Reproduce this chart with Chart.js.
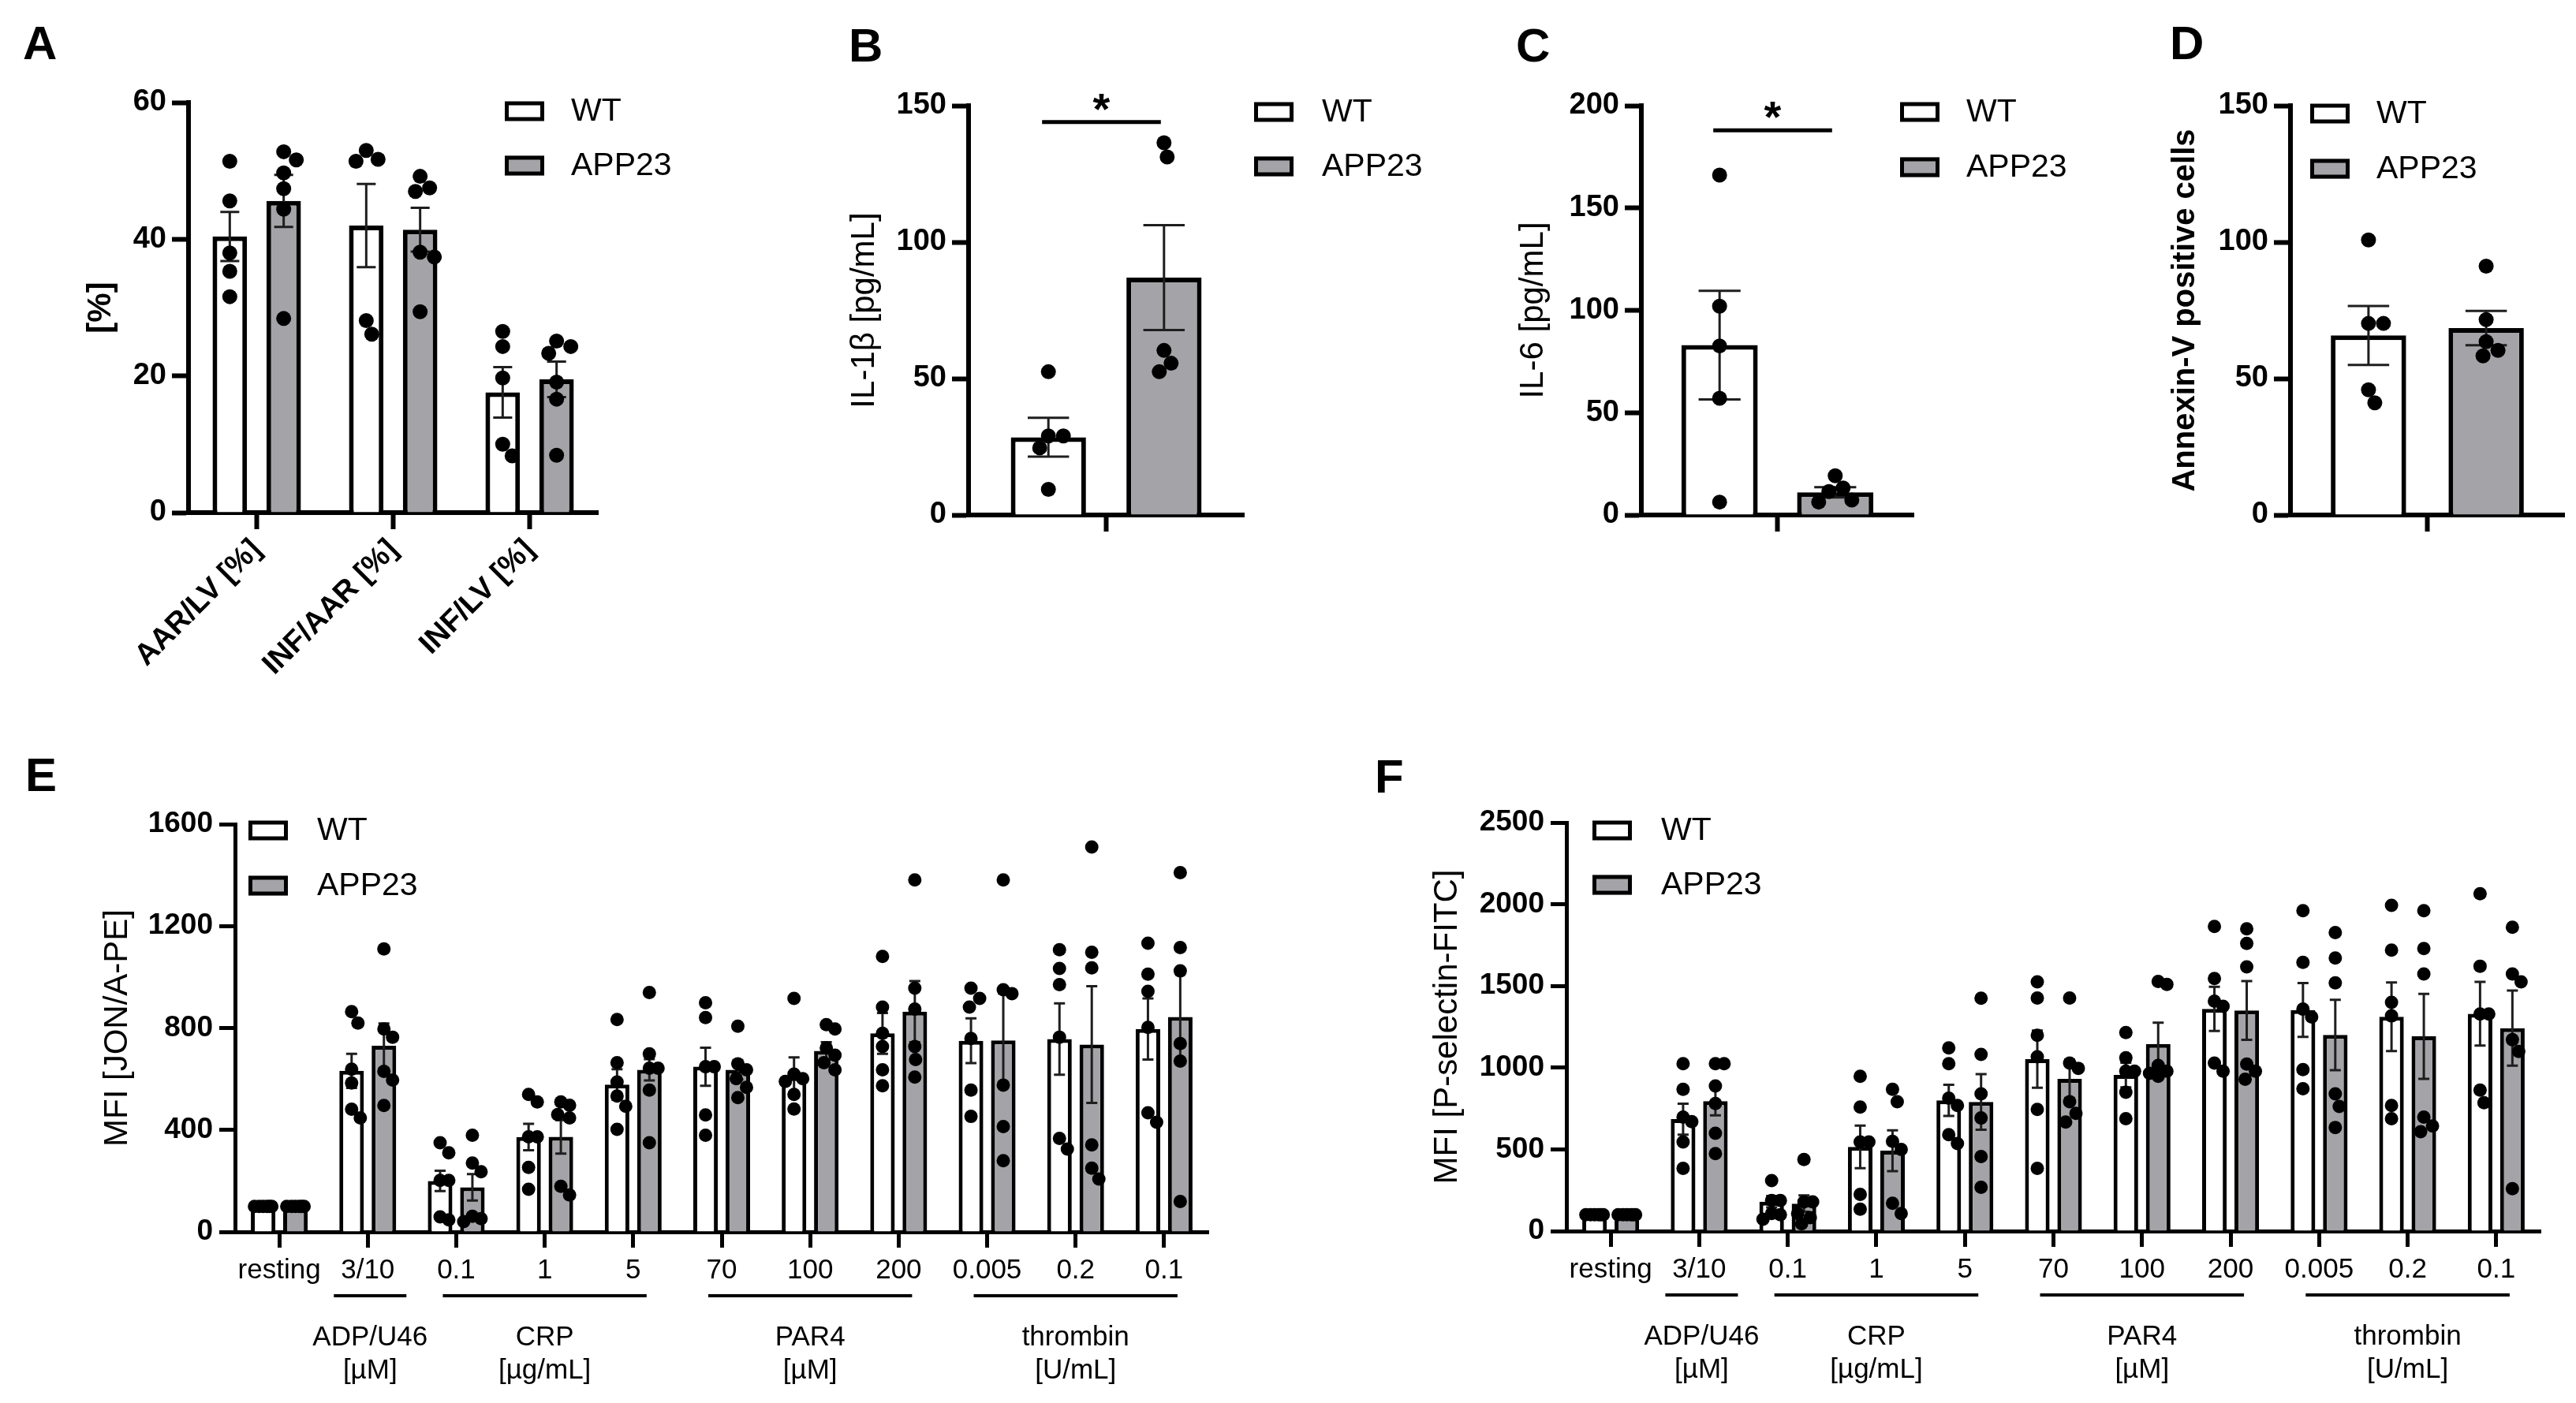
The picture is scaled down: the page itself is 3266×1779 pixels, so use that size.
<!DOCTYPE html>
<html>
<head>
<meta charset="utf-8">
<script src="https://cdn.jsdelivr.net/npm/chart.js@4/dist/chart.umd.min.js"></script>
<style>
html, body { margin: 0; padding: 0; background: #fff; }
body { width: 3266px; height: 1779px; position: relative; overflow: hidden; font-family: "Liberation Sans", Arial, sans-serif; }
canvas { position: absolute; }
.tag { position: absolute; font-weight: bold; font-size: 60px; line-height: 1; color: #000; }
</style>
</head>
<body>
<div class="tag" style="left:29px;top:25px">A</div>
<div class="tag" style="left:1076px;top:28px">B</div>
<div class="tag" style="left:1922px;top:28px">C</div>
<div class="tag" style="left:2751px;top:25px">D</div>
<div class="tag" style="left:32px;top:953px">E</div>
<div class="tag" style="left:1743px;top:955px">F</div>
<canvas id="cA"></canvas>
<canvas id="cB"></canvas>
<canvas id="cC"></canvas>
<canvas id="cD"></canvas>
<canvas id="cE"></canvas>
<canvas id="cF"></canvas>
<script>
const seriesNames = ['WT', 'APP23'];

// A - infarct size
const aLabels = ['AAR/LV [%]', 'INF/AAR [%]', 'INF/LV [%]'];
const aTicks = [0, 20, 40, 60];
const aWtMean = [40.4, 42.0, 17.6];
const aWtSem = [3.6, 6.1, 3.7];
const aAppMean = [45.6, 41.4, 19.5];
const aAppSem = [3.8, 3.2, 2.6];
const aWtDots = [[51.4, 45.6, 38.0, 35.3, 31.6], [53.0, 51.7, 51.4, 28.1, 26.1], [26.5, 24.3, 19.7, 10.0, 8.3]];
const aAppDots = [[52.8, 51.6, 49.7, 47.4, 44.4, 28.4], [49.2, 47.5, 47.0, 38.1, 37.4, 29.4], [25.1, 24.3, 23.3, 19.1, 16.6, 8.4]];

// B - IL-1beta
const bTicks = [0, 50, 100, 150];
const bWtMean = [28.5], bWtSem = [7.1];
const bAppMean = [87.0], bAppSem = [19.2];
const bWtDots = [[52.5, 29.0, 29.0, 24.6, 9.4]];
const bAppDots = [[136.4, 131.2, 60.3, 55.6, 52.5]];
const bSig = 144;

// C - IL-6
const cTicks = [0, 50, 100, 150, 200];
const cWtMean = [83.0], cWtSem = [26.5];
const cAppMean = [11.1], cAppSem = [2.5];
const cWtDots = [[166.1, 102.0, 82.6, 57.0, 6.3]];
const cAppDots = [[19.2, 13.2, 11.5, 7.3, 6.3]];
const cSig = 188;

// D - Annexin-V
const dTicks = [0, 50, 100, 150];
const dWtMean = [65.8], dWtSem = [10.8];
const dAppMean = [68.5], dAppSem = [6.3];
const dWtDots = [[100.8, 70.2, 70.2, 45.9, 41.1]];
const dAppDots = [[91.2, 71.6, 63.5, 60.3, 58.3]];

// E/F shared agonist axis
const agonists = ['resting', '3/10', '0.1', '1', '5', '70', '100', '200', '0.005', '0.2', '0.1'];
const groupNames = ['ADP/U46', 'CRP', 'PAR4', 'thrombin'];
const groupUnits = ['[µM]', '[µg/mL]', '[µM]', '[U/mL]'];
const groupFirst = [1, 2, 5, 8];
const groupLast = [1, 4, 7, 10];

// E - JON/A
const eTicks = [0, 400, 800, 1200, 1600];
const eWtMean = [100, 632, 200, 372, 578, 648, 607, 779, 750, 757, 796];
const eWtSem = [4, 67, 40, 52, 60, 75, 78, 80, 88, 140, 120];
const eAppMean = [100, 730, 175, 373, 636, 636, 710, 864, 751, 735, 843];
const eAppSem = [4, 88, 52, 66, 42, 38, 34, 120, 185, 229, 170];
const eWtDots = [
  [100, 100, 100, 100, 100, 100],
  [864, 819, 638, 584, 481, 447],
  [350, 310, 202, 202, 59, 47],
  [539, 510, 373, 373, 253, 167],
  [833, 664, 588, 533, 493, 402],
  [899, 841, 648, 648, 459, 379],
  [916, 619, 601, 590, 539, 482],
  [1081, 882, 779, 727, 636, 573],
  [956, 916, 882, 759, 556, 453],
  [1107, 1034, 970, 764, 367, 325],
  [1133, 1011, 944, 802, 467, 430]
];
const eAppDots = [
  [100, 100, 100, 100, 100, 100],
  [1110, 796, 764, 630, 596, 496],
  [379, 270, 236, 61, 52, 40],
  [510, 497, 460, 447, 179, 145],
  [939, 699, 642, 642, 556, 350],
  [807, 659, 636, 601, 567, 527],
  [813, 796, 722, 693, 664, 636],
  [1381, 956, 874, 727, 676, 607],
  [1381, 950, 935, 576, 413, 279],
  [1510, 1097, 1036, 341, 250, 207],
  [1410, 1116, 1024, 739, 670, 119]
];

// F - P-selectin
const fTicks = [0, 500, 1000, 1500, 2000, 2500];
const fWtMean = [100, 685, 180, 515, 800, 1052, 955, 1360, 1353, 1312, 1330];
const fWtSem = [5, 95, 35, 130, 95, 175, 75, 135, 165, 210, 195];
const fAppMean = [100, 795, 168, 492, 790, 932, 1145, 1350, 1200, 1192, 1242];
const fAppSem = [5, 87, 50, 125, 170, 118, 130, 180, 215, 260, 230];
const fWtDots = [
  [100, 100, 100, 100, 100, 100],
  [1024, 867, 697, 670, 545, 384],
  [309, 187, 187, 107, 100, 72],
  [947, 759, 545, 545, 224, 134],
  [1121, 1024, 813, 769, 590, 536],
  [1525, 1426, 1198, 1067, 745, 384],
  [1215, 1060, 978, 978, 849, 688],
  [1864, 1546, 1407, 1376, 1028, 978],
  [1961, 1644, 1358, 1310, 988, 871],
  [1993, 1719, 1400, 1317, 769, 688],
  [2064, 1621, 1328, 1328, 863, 786]
];
const fAppDots = [
  [100, 100, 100, 100, 100, 100],
  [1024, 1024, 888, 781, 599, 474],
  [438, 179, 179, 107, 82, 45],
  [867, 792, 549, 500, 170, 107],
  [1425, 1081, 840, 692, 456, 268],
  [1426, 1028, 996, 792, 720, 667],
  [1528, 1510, 1014, 978, 965, 947],
  [1850, 1760, 1617, 1022, 978, 929],
  [1827, 1671, 1519, 840, 763, 634],
  [1961, 1729, 1573, 697, 643, 608],
  [1859, 1573, 1525, 1171, 1099, 259]
];

const FONT = '"Liberation Sans", Arial, sans-serif';
const GRAY = '#a4a4a8';

// spread dots sideways so they don't sit on top of each other
function swarm(ys, cx, r, maxOff) {
  const placed = [];
  const minD = 2 * r * 0.97;
  return ys.map(py => {
    let bestX = cx, bestD = -1;
    for (let k = 0; k <= 2 * maxOff; k++) {
      const off = (k % 2 ? 1 : -1) * Math.ceil(k / 2);
      const px = cx + off;
      let d = Infinity;
      placed.forEach(p => { d = Math.min(d, Math.hypot(p[0] - px, p[1] - py)); });
      if (d >= minD) { bestX = px; bestD = Infinity; break; }
      if (d > bestD + 0.5) { bestD = d; bestX = px; }
    }
    placed.push([bestX, py]);
    return bestX;
  });
}

function makeOverlay(st) {
  return {
    id: 'overlay',
    afterDatasetsDraw(chart) {
      const ctx = chart.ctx;
      const y = chart.scales.y;
      chart.data.datasets.forEach((ds, i) => {
        chart.getDatasetMeta(i).data.forEach((bar, j) => {
          const m = ds.data[j], e = ds.sem[j];
          const hw = bar.width * st.capRatio / 2;
          const yt = y.getPixelForValue(m + e);
          const yb = y.getPixelForValue(Math.max(m - e, 0));
          ctx.save();
          ctx.strokeStyle = '#1e1e1e';
          ctx.lineWidth = st.errW;
          ctx.beginPath();
          ctx.moveTo(bar.x, yt); ctx.lineTo(bar.x, yb);
          ctx.moveTo(bar.x - hw, yt); ctx.lineTo(bar.x + hw, yt);
          ctx.moveTo(bar.x - hw, yb); ctx.lineTo(bar.x + hw, yb);
          ctx.stroke();
          const ys = ds.dots[j].map(v => y.getPixelForValue(v));
          const xs = swarm(ys, bar.x, st.dotR, Math.round(bar.width * st.spread));
          ctx.fillStyle = '#000';
          ys.forEach((py, k) => {
            ctx.beginPath();
            ctx.arc(xs[k], py, st.dotR, 0, Math.PI * 2);
            ctx.fill();
          });
          ctx.restore();
        });
      });
    },
    afterDraw(chart) {
      const ctx = chart.ctx;
      const ox = st.cx, oy = st.cy;
      ctx.save();
      // legend
      chart.data.datasets.forEach((ds, i) => {
        const ry = st.legend.y[i] - oy;
        const bx = st.legend.boxX - ox;
        ctx.fillStyle = ds.backgroundColor;
        ctx.fillRect(bx, ry - 12.5, 50, 25);
        ctx.strokeStyle = '#000';
        ctx.lineWidth = 5;
        ctx.strokeRect(bx + 2.5, ry - 10, 45, 20);
        ctx.fillStyle = '#000';
        ctx.font = '41px ' + FONT;
        ctx.textBaseline = 'middle';
        ctx.textAlign = 'left';
        ctx.fillText(ds.label, st.legend.textX - ox, ry + 1);
      });
      // significance bracket
      if (st.sig != null) {
        const b0 = chart.getDatasetMeta(0).data[0];
        const b1 = chart.getDatasetMeta(1).data[0];
        const ly = chart.scales.y.getPixelForValue(st.sig);
        ctx.strokeStyle = '#000';
        ctx.lineWidth = 5;
        ctx.beginPath();
        ctx.moveTo(b0.x - 8, ly); ctx.lineTo(b1.x - 4, ly);
        ctx.stroke();
        ctx.fillStyle = '#000';
        ctx.font = 'bold 56px ' + FONT;
        ctx.textAlign = 'center';
        ctx.textBaseline = 'alphabetic';
        ctx.fillText('*', (b0.x + b1.x) / 2 - 6, ly + 2);
      }
      // agonist groups under the x axis
      if (st.groups) {
        const x = chart.scales.x;
        const base = chart.chartArea.bottom;
        ctx.strokeStyle = '#000';
        ctx.lineWidth = 4;
        ctx.fillStyle = '#000';
        ctx.font = '35px ' + FONT;
        ctx.textAlign = 'center';
        ctx.textBaseline = 'middle';
        groupNames.forEach((name, g) => {
          const single = groupFirst[g] === groupLast[g];
          const ext = single ? 43 : 17;
          const x0 = x.getPixelForValue(groupFirst[g]) - ext;
          const x1 = x.getPixelForValue(groupLast[g]) + ext + (single ? 6 : 0);
          ctx.beginPath();
          ctx.moveTo(x0, base + 81); ctx.lineTo(x1, base + 81);
          ctx.stroke();
          const mx = (x0 + x1) / 2;
          ctx.fillText(name, mx, base + 134);
          ctx.fillText(groupUnits[g], mx, base + 176);
        });
      }
      ctx.restore();
    }
  };
}

function panel(st, labels, ticks, wt, wtSem, wtDots, app, appSem, appDots, sig) {
  st.sig = sig;
  const cv = document.getElementById(st.id);
  cv.width = st.cw; cv.height = st.ch;
  cv.style.left = st.cx + 'px'; cv.style.top = st.cy + 'px';
  cv.style.width = st.cw + 'px'; cv.style.height = st.ch + 'px';
  const lh = st.titleFont.size * 1.2;
  const padL = st.titleX - st.cx - lh / 2;
  const yW = st.L - st.cx - padL;
  const xH = st.cy + st.ch - st.B;
  const common = {
    borderColor: '#000', borderWidth: st.barBorder,
    categoryPercentage: st.catPct, barPercentage: st.barPct
  };
  return new Chart(cv, {
    type: 'bar',
    data: {
      labels: labels,
      datasets: [
        Object.assign({ label: seriesNames[0], data: wt, sem: wtSem, dots: wtDots, backgroundColor: '#ffffff' }, common),
        Object.assign({ label: seriesNames[1], data: app, sem: appSem, dots: appDots, backgroundColor: GRAY }, common)
      ]
    },
    options: {
      responsive: false,
      animation: false,
      devicePixelRatio: 1,
      layout: { padding: { left: padL, top: st.T - st.cy, right: st.cx + st.cw - st.R, bottom: 0 } },
      plugins: { legend: { display: false }, tooltip: { enabled: false } },
      scales: {
        x: {
          grid: { display: true, drawOnChartArea: false, offset: false, tickLength: st.tickLen, tickWidth: st.axisW, tickColor: '#000' },
          border: { display: true, color: '#000', width: st.axisW },
          ticks: { color: '#000', font: st.xFont, padding: st.xPad, autoSkip: false, maxRotation: st.rot, minRotation: st.rot },
          afterFit: s => { s.height = xH; }
        },
        y: {
          min: ticks[0],
          max: ticks[ticks.length - 1],
          afterBuildTicks: s => { s.ticks = ticks.map(v => ({ value: v })); },
          grid: { display: true, drawOnChartArea: false, tickLength: st.tickLen, tickWidth: st.axisW, tickColor: '#000' },
          border: { display: true, color: '#000', width: st.axisW },
          ticks: { color: '#000', font: st.yFont, padding: st.yPad, callback: v => String(v) },
          title: { display: true, text: st.title, color: '#000', font: st.titleFont, padding: 0 },
          afterFit: s => { s.width = yW; }
        }
      }
    },
    plugins: [makeOverlay(st)]
  });
}

const topStyle = {
  cy: 0, ch: 900, tickLen: 21, axisW: 6, barBorder: 6, rot: 0, xPad: 6, yPad: 7,
  yFont: { family: FONT, size: 38, weight: 'bold' },
  xFont: { family: FONT, size: 38, weight: 'bold' },
  dotR: 9.5, spread: 0.42, capRatio: 0.55, errW: 3
};
const bottomStyle = {
  cy: 900, ch: 879, B: 1562, tickLen: 20, axisW: 5, barBorder: 5, rot: 0, xPad: 8, yPad: 8,
  yFont: { family: FONT, size: 37, weight: 'bold' },
  xFont: { family: FONT, size: 35 },
  titleFont: { family: FONT, size: 42 },
  catPct: 0.73, barPct: 0.76, dotR: 8.5, spread: 0.36, capRatio: 0.45, errW: 3, groups: true
};

panel(Object.assign({}, topStyle, {
  id: 'cA', cx: 0, cw: 900, L: 239, T: 130, R: 758, B: 650, titleX: 128, title: '[%]',
  titleFont: { family: FONT, size: 42, weight: 'bold' }, rot: 45, xPad: 4,
  catPct: 0.79, barPct: 0.64, legend: { boxX: 640, textX: 724, y: [141, 210] }
}), aLabels, aTicks, aWtMean, aWtSem, aWtDots, aAppMean, aAppSem, aAppDots, null);

panel(Object.assign({}, topStyle, {
  id: 'cB', cx: 1000, cw: 890, L: 1228, T: 134, R: 1577, B: 653, titleX: 1096, title: 'IL-1β [pg/mL]',
  titleFont: { family: FONT, size: 42 }, catPct: 0.84, barPct: 0.65,
  legend: { boxX: 1590, textX: 1676, y: [142, 211] }
}), [''], bTicks, bWtMean, bWtSem, bWtDots, bAppMean, bAppSem, bAppDots, bSig);

panel(Object.assign({}, topStyle, {
  id: 'cC', cx: 1890, cw: 850, L: 2081, T: 134, R: 2426, B: 653, titleX: 1944, title: 'IL-6 [pg/mL]',
  titleFont: { family: FONT, size: 42 }, catPct: 0.85, barPct: 0.66,
  legend: { boxX: 2409, textX: 2493, y: [142, 212] }
}), [''], cTicks, cWtMean, cWtSem, cWtDots, cAppMean, cAppSem, cAppDots, cSig);

panel(Object.assign({}, topStyle, {
  id: 'cD', cx: 2740, cw: 526, L: 2904, T: 134, R: 3251, B: 653, titleX: 2771, title: 'Annexin-V positive cells',
  titleFont: { family: FONT, size: 40, weight: 'bold' }, catPct: 0.86, barPct: 0.64,
  legend: { boxX: 2929, textX: 3013, y: [144, 214] }
}), [''], dTicks, dWtMean, dWtSem, dWtDots, dAppMean, dAppSem, dAppDots, null);

panel(Object.assign({}, bottomStyle, {
  id: 'cE', cx: 0, cw: 1640, L: 298, T: 1045, R: 1532, titleX: 149, title: 'MFI [JON/A-PE]',
  legend: { boxX: 315, textX: 402, y: [1053, 1123] }
}), agonists, eTicks, eWtMean, eWtSem, eWtDots, eAppMean, eAppSem, eAppDots, null);

panel(Object.assign({}, bottomStyle, {
  id: 'cF', cx: 1640, cw: 1626, L: 1986, T: 1043, R: 3221, B: 1561, titleX: 1835, title: 'MFI [P-selectin-FITC]',
  legend: { boxX: 2019, textX: 2106, y: [1053, 1122] }
}), agonists, fTicks, fWtMean, fWtSem, fWtDots, fAppMean, fAppSem, fAppDots, null);
</script>
</body>
</html>
